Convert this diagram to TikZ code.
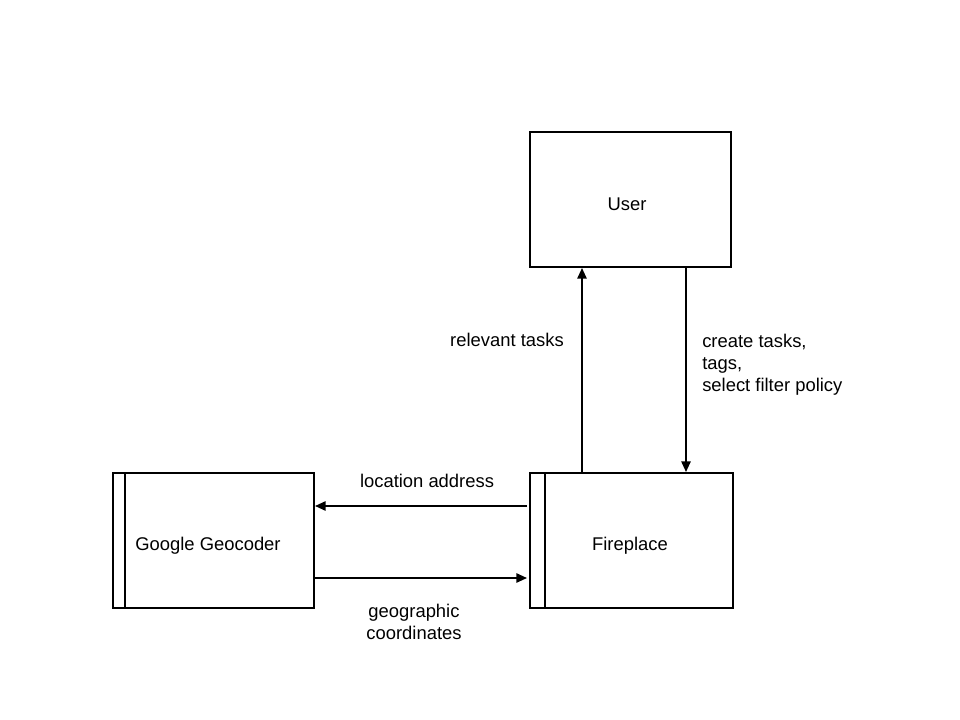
\documentclass[tikz,border=0pt]{standalone}
\usepackage{fontspec}
\setmainfont{Liberation Sans}
\usetikzlibrary{arrows.meta,calc}
\begin{document}
\begin{tikzpicture}[x=0.75pt,y=-0.75pt,
  box/.style={draw,line width=1.5pt,rectangle,minimum width=#1*0.75pt,minimum height=101.25pt,inner sep=0pt},
  arr/.style={line width=1.3pt,-{Triangle[length=8pt,width=7pt]}},
  lbl/.style={font=\fontsize{13.8pt}{16.5pt}\selectfont,inner sep=0pt},
  every node/.style={font=\fontsize{13.8pt}{16.5pt}\selectfont}]
\useasboundingbox[fill=white] (0,0) rectangle (960,720);
\node[box=201] (geo) at (213.5,540.5) {};
\node[lbl] (geot) at (208,546) {Google Geocoder};
\node[box=203] (fire) at (631.5,540.5) {};
\node[lbl] (firet) at (630,546) {Fireplace};
\node[box=201] (user) at (630.5,199.5) {};
\node[lbl] (usert) at (627,204) {User};
\draw[line width=1.5pt] ($(geo.north west)+(13,0)$) coordinate (g1) -- ($(geo.south west)+(13,0)$) coordinate (g2);
\draw[line width=1.5pt] ($(fire.north west)+(15.5,0)$) coordinate (f1) -- ($(fire.south west)+(15.5,0)$) coordinate (f2);
% vertical arrows
\coordinate (ra) at ($(fire.north west)+(53,0)$);
\coordinate (rb) at ($(user.south west)+(53,0)$);
\draw[arr] (ra) -- (rb);
\coordinate (ca) at ($(user.south west)+(157,0)$);
\coordinate (cb) at ($(fire.north west)+(157,0)$);
\draw[arr] (ca) -- (cb);
% horizontal arrows
\coordinate (la) at ($(fire.north west)+(-2,34)$);
\coordinate (lb) at ($(geo.north east)+(0,34)$);
\draw[arr] (la) -- (lb);
\coordinate (ga) at ($(geo.north east)+(0,106)$);
\coordinate (gb) at ($(fire.north west)+(-2,106)$);
\draw[arr] (ga) -- (gb);
% labels
\node[lbl] (l1) at (507,340) {relevant tasks};
\node[lbl,anchor=west,align=left] (l2) at (702,365) {create tasks,\\tags,\\select filter policy};
\node[lbl] (l3) at (427,481) {location address};
\node[lbl,align=center] (l4) at (414,622) {geographic\\coordinates};
\end{tikzpicture}
\end{document}
